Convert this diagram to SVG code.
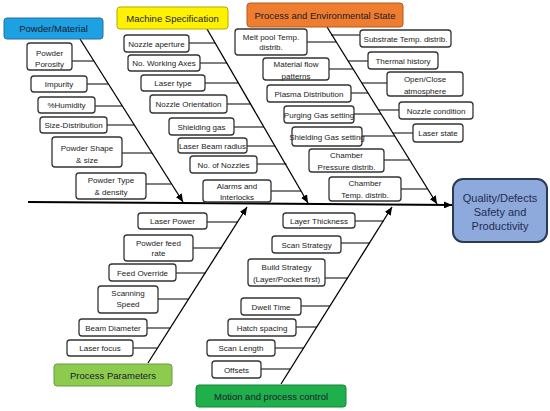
<svg xmlns="http://www.w3.org/2000/svg" width="550" height="411" viewBox="0 0 550 411">
<defs>
<marker id="arr" markerUnits="userSpaceOnUse" markerWidth="9" markerHeight="7" refX="8" refY="3.5" orient="auto">
<path d="M0,0 L8,3.5 L0,7 z" fill="#000"/>
</marker>
<style>
.box{fill:#fff;stroke:#333;stroke-width:1.3}
.t{font-family:"Liberation Sans",Arial,sans-serif;font-size:8px;fill:#222;text-anchor:middle}
.tt{font-family:"Liberation Sans",Arial,sans-serif;font-size:9.5px;fill:#1a1a2e;text-anchor:middle}
.ot{font-family:"Liberation Sans",Arial,sans-serif;font-size:11px;fill:#1f2d50;text-anchor:middle}
.ln{stroke:#000;stroke-width:1.1;fill:none}
.dg{stroke:#000;stroke-width:1.3;fill:none;marker-end:url(#arr)}
</style>
</defs>
<rect width="550" height="411" fill="#fff"/>
<g id="connectors">
<path class="dg" d="M28,202 L452,205" style="stroke-width:2"/>
<path class="dg" d="M80,39 L183,202"/>
<path class="dg" d="M207,29 L308,203"/>
<path class="dg" d="M327,27 L437,204"/>
<path class="dg" d="M148,363 L247,207"/>
<path class="dg" d="M281,384 L392,207"/>
<path class="ln" d="M72,61H94 M87,84H108 M95,106H122 M107,125H134 M122,153H152 M146,184H171.5"/>
<path class="ln" d="M189,43H215 M200,63H227 M205,83H238 M227,104H250.5 M234,127H264 M247,146H275 M257,164H286.5 M271,191H301"/>
<path class="ln" d="M307,42H336 M329,69H353 M351,93H368 M354,114H381 M362,136H394.5 M384,160H409 M401,189H427"/>
<path class="ln" d="M331,35H360 M348,61H368 M362,83H387 M378,110H399 M392.5,133H413"/>
<path class="ln" d="M207,222H238 M193,248H221.5 M176,273H205.5 M158,299H189 M147,328H170.4 M133,348H157.6"/>
<path class="ln" d="M355,221H384 M341,243H370 M324,278H348 M301,306H330 M296,327H317 M275,348H304 M261,369H290.5"/>
</g>
<g id="cat-powder"><rect x="4" y="18" width="99" height="21" rx="3" fill="#1DA1E2" stroke="#2D6E9E"/><text class="tt" x="53.5" y="32">Powder/Material</text></g>
<g id="cat-machine"><rect x="117" y="7" width="111" height="22" rx="3" fill="#FFF200" stroke="#B5A800"/><text class="tt" x="172.5" y="21.5">Machine Specification</text></g>
<g id="cat-process-env"><rect x="247" y="3" width="156" height="24" rx="3" fill="#EE7D2F" stroke="#B35A1F"/><text class="tt" x="325" y="18.5">Process and Environmental  State</text></g>
<g id="cat-params"><rect x="54" y="364" width="118" height="22" rx="3" fill="#8DCB4F" stroke="#6A9A3A"/><text class="tt" x="113" y="378.5">Process Parameters</text></g>
<g id="cat-motion"><rect x="196" y="385" width="150" height="22" rx="3" fill="#1FAF4B" stroke="#15833A"/><text class="tt" x="271" y="399.5">Motion and process control</text></g>
<g id="outcome"><rect x="453" y="179" width="94" height="63" rx="10" fill="#8EA9DB" stroke="#2B3A55" stroke-width="2"/><text class="ot" x="500" y="201.5">Quality/Defects</text><text class="ot" x="500" y="215.5">Safety and</text><text class="ot" x="500" y="230">Productivity</text></g>
<g id="n-porosity"><rect class="box" x="27" y="43" width="45" height="27" rx="3"/><text class="t" x="49.5" y="56">Powder</text><text class="t" x="49.5" y="67">Porosity</text></g>
<g id="n-impurity"><rect class="box" x="31" y="76" width="56" height="16" rx="3"/><text class="t" x="59" y="87">Impurity</text></g>
<g id="n-humidity"><rect class="box" x="38" y="97" width="57" height="16" rx="3"/><text class="t" x="66.5" y="108">%Humidity</text></g>
<g id="n-sizedist"><rect class="box" x="40" y="117" width="67" height="16" rx="3"/><text class="t" x="73.5" y="128">Size-Distribution</text></g>
<g id="n-shape"><rect class="box" x="52" y="137" width="70" height="30" rx="3"/><text class="t" x="87" y="150.5">Powder Shape</text><text class="t" x="87" y="163">&amp; size</text></g>
<g id="n-type"><rect class="box" x="76" y="173" width="70" height="26" rx="3"/><text class="t" x="111" y="183">Powder Type</text><text class="t" x="111" y="194.5">&amp; density</text></g>
<g id="n-aperture"><rect class="box" x="124" y="35" width="65" height="17" rx="3"/><text class="t" x="156.5" y="46.5">Nozzle aperture</text></g>
<g id="n-axes"><rect class="box" x="128" y="55" width="72" height="16" rx="3"/><text class="t" x="164" y="66">No. Working Axes</text></g>
<g id="n-lasertype"><rect class="box" x="141" y="75" width="64" height="16" rx="3"/><text class="t" x="173" y="86">Laser type</text></g>
<g id="n-orient"><rect class="box" x="150" y="95" width="77" height="18" rx="3"/><text class="t" x="188.5" y="107">Nozzle Orientation</text></g>
<g id="n-shieldgas"><rect class="box" x="169" y="118" width="65" height="17" rx="3"/><text class="t" x="201.5" y="129.5">Shielding gas</text></g>
<g id="n-beamradius"><rect class="box" x="178" y="138" width="69" height="15" rx="3"/><text class="t" x="212.5" y="148.5">Laser Beam radius</text></g>
<g id="n-nozzles"><rect class="box" x="190" y="156" width="67" height="17" rx="3"/><text class="t" x="223.5" y="167.5">No. of Nozzles</text></g>
<g id="n-alarms"><rect class="box" x="203" y="180" width="68" height="22" rx="3"/><text class="t" x="237" y="189">Alarms and</text><text class="t" x="237" y="199.5">Interlocks</text></g>
<g id="n-meltpool"><rect class="box" x="235" y="29" width="72" height="26" rx="3"/><text class="t" x="271" y="39.5">Melt pool Temp.</text><text class="t" x="271" y="50">distrib.</text></g>
<g id="n-matflow"><rect class="box" x="263" y="58" width="66" height="22" rx="3"/><text class="t" x="296" y="67">Material flow</text><text class="t" x="296" y="78.5">patterns</text></g>
<g id="n-plasma"><rect class="box" x="267" y="85" width="84" height="17" rx="3"/><text class="t" x="309" y="96.5">Plasma Distribution</text></g>
<g id="n-purging"><rect class="box" x="284" y="106" width="70" height="17" rx="3"/><text class="t" x="319" y="117.5">Purging Gas setting</text></g>
<g id="n-shieldset"><rect class="box" x="292" y="127" width="70" height="19" rx="3"/><text class="t" x="327" y="139.5">Shielding Gas setting</text></g>
<g id="n-pressure"><rect class="box" x="309" y="149" width="75" height="23" rx="3"/><text class="t" x="346.5" y="158">Chamber</text><text class="t" x="346.5" y="169.5">Pressure distrib.</text></g>
<g id="n-chtemp"><rect class="box" x="329" y="177" width="72" height="24" rx="3"/><text class="t" x="365" y="186">Chamber</text><text class="t" x="365" y="198">Temp. distrib.</text></g>
<g id="n-substrate"><rect class="box" x="360" y="30" width="91" height="17" rx="3"/><text class="t" x="405.5" y="41.5">Substrate Temp. distrib.</text></g>
<g id="n-thermal"><rect class="box" x="368" y="52" width="70" height="17" rx="3"/><text class="t" x="403" y="63.5">Thermal history</text></g>
<g id="n-atmos"><rect class="box" x="387" y="72" width="76" height="24" rx="3"/><text class="t" x="425" y="82">Open/Close</text><text class="t" x="425" y="93.5">atmosphere</text></g>
<g id="n-nozcond"><rect class="box" x="399" y="102" width="74" height="17" rx="3"/><text class="t" x="436" y="113.5">Nozzle condition</text></g>
<g id="n-laserstate"><rect class="box" x="413" y="124" width="50" height="18" rx="3"/><text class="t" x="438" y="136">Laser state</text></g>
<g id="n-laserpower"><rect class="box" x="138" y="213" width="69" height="16" rx="3"/><text class="t" x="172.5" y="224">Laser Power</text></g>
<g id="n-feedrate"><rect class="box" x="124" y="235" width="69" height="26" rx="3"/><text class="t" x="158.5" y="245.5">Powder feed</text><text class="t" x="158.5" y="256">rate</text></g>
<g id="n-override"><rect class="box" x="109" y="264" width="67" height="17" rx="3"/><text class="t" x="142.5" y="275.5">Feed Override</text></g>
<g id="n-scanspeed"><rect class="box" x="98" y="286" width="60" height="27" rx="3"/><text class="t" x="128" y="296">Scanning</text><text class="t" x="128" y="307">Speed</text></g>
<g id="n-beamdia"><rect class="box" x="79" y="319" width="68" height="17" rx="3"/><text class="t" x="113" y="330.5">Beam Diameter</text></g>
<g id="n-focus"><rect class="box" x="67" y="340" width="66" height="16" rx="3"/><text class="t" x="100" y="351">Laser focus</text></g>
<g id="n-layer"><rect class="box" x="283" y="213" width="72" height="15" rx="3"/><text class="t" x="319" y="223.5">Layer Thickness</text></g>
<g id="n-scanstrat"><rect class="box" x="272" y="236" width="69" height="17" rx="3"/><text class="t" x="306.5" y="247.5">Scan Strategy</text></g>
<g id="n-buildstrat"><rect class="box" x="248" y="259" width="77" height="27" rx="3"/><text class="t" x="286.5" y="269.5">Build Strategy</text><text class="t" x="286.5" y="281.5">(Layer/Pocket first)</text></g>
<g id="n-dwell"><rect class="box" x="241" y="298" width="60" height="17" rx="3"/><text class="t" x="271" y="309.5">Dwell Time</text></g>
<g id="n-hatch"><rect class="box" x="228" y="319" width="68" height="17" rx="3"/><text class="t" x="262" y="330.5">Hatch spacing</text></g>
<g id="n-scanlen"><rect class="box" x="207" y="340" width="68" height="16" rx="3"/><text class="t" x="241" y="351">Scan Length</text></g>
<g id="n-offsets"><rect class="box" x="212" y="361" width="49" height="17" rx="3"/><text class="t" x="236.5" y="372.5">Offsets</text></g>
</svg>
